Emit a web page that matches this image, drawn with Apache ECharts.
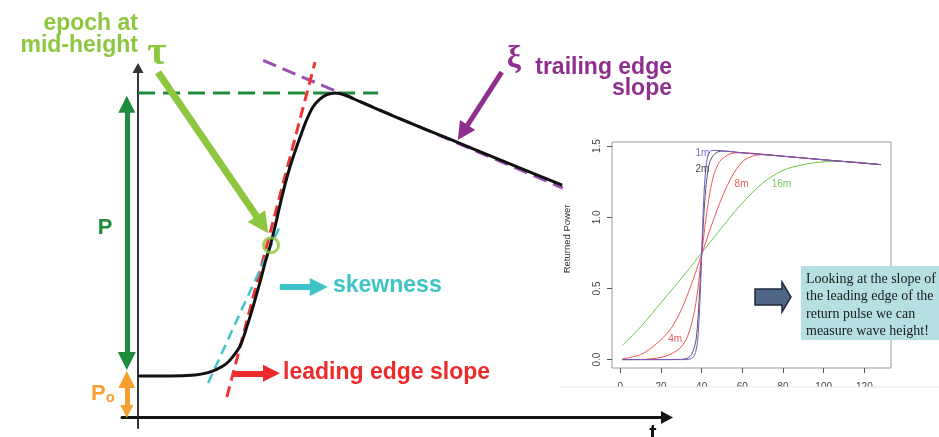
<!DOCTYPE html>
<html>
<head>
<meta charset="utf-8">
<script src="https://cdn.jsdelivr.net/npm/echarts@6/dist/echarts.min.js"></script>
<style>
  html, body { margin: 0; padding: 0; background: #fff; }
  #chart { width: 939px; height: 437px; }
</style>
</head>
<body>
<div id="chart"></div>
<script>
// ---- Idealised altimeter return waveform (main panel), t vs power ----
const waveT = [0, 6, 10.7, 12.9, 14.8, 16.4, 17.8, 19.1, 20.4, 21.7, 23.0, 23.9, 24.7, 25.6, 26.5, 27.5, 28.4, 29.3, 30.3, 31.4, 32.7, 34.0, 35.3, 36.8, 38.7, 41.5, 49.0, 58.3, 67.7, 79.3];
const waveP = [1.18, 1.18, 1.21, 1.27, 1.38, 1.52, 1.75, 2.04, 2.61, 3.26, 3.97, 4.49, 4.89, 5.43, 6.03, 6.65, 7.14, 7.56, 7.99, 8.44, 8.85, 9.07, 9.2, 9.25, 9.19, 9.0, 8.51, 7.93, 7.34, 6.62];

// Reference lines (pairs of [t, power])
const peakLevel = [[0, 9.25], [44.9, 9.25]];
const leadingEdgeTangent = [[16.6, 0.58], [33.1, 10.13]];
const skewnessTangent = [[13.1, 0.98], [26.7, 5.51]];
const trailingEdgeTangent = [[23.4, 10.18], [79.4, 6.54]];
const midHeightEpoch = [24.86, 4.91];

// Annotation arrows (start, head centre)
const epochArrow = [[3.74, 9.84], [23.25, 5.49]];
const skewArrow = [[26.5, 3.72], [33.8, 3.72]];
const leadingArrow = [[17.76, 1.26], [24.95, 1.26]];
const trailingArrow = [[68.0, 9.84], [60.7, 8.12]];
const amplitudeArrow = [[-2.1, 8.93], [-2.1, 1.61]];
const noiseArrow = [[-2.1, 1.08], [-2.1, 0.17]];

// ---- Simulated waveforms for different significant wave heights ----
const insetTicksX = [0, 20, 40, 60, 80, 100, 120];
const insetTicksY = [0, 0.5, 1, 1.5];

const t1m = [1, 30, 34, 36, 37, 38, 39, 40, 41, 42, 43, 44, 45, 47, 60, 80, 100, 120, 128];
const p1m = [0, 0, 0.003, 0.02, 0.05, 0.13, 0.36, 0.74, 1.12, 1.34, 1.43, 1.46, 1.47, 1.47, 1.453, 1.429, 1.404, 1.38, 1.37];

const t2m = [1, 20, 30, 33, 35, 37, 38, 39, 40, 41, 42, 43, 44, 46, 48, 50, 60, 80, 100, 120, 128];
const p2m = [0, 0, 0.002, 0.01, 0.035, 0.12, 0.25, 0.48, 0.74, 1.0, 1.2, 1.32, 1.39, 1.44, 1.46, 1.465, 1.453, 1.429, 1.404, 1.38, 1.37];

const t4m = [1, 10, 20, 25, 30, 33, 36, 38, 40, 42, 44, 46, 48, 50, 55, 60, 80, 100, 120, 128];
const p4m = [0, 0.001, 0.015, 0.04, 0.09, 0.16, 0.31, 0.48, 0.74, 0.98, 1.17, 1.3, 1.37, 1.41, 1.45, 1.453, 1.429, 1.404, 1.38, 1.37];

const t8m = [1, 10, 15, 20, 25, 30, 35, 40, 45, 50, 55, 60, 65, 70, 80, 100, 120, 128];
const p8m = [0.004, 0.035, 0.08, 0.14, 0.22, 0.35, 0.53, 0.74, 0.95, 1.14, 1.29, 1.39, 1.43, 1.44, 1.429, 1.404, 1.38, 1.37];

const t16m = [1, 10, 20, 30, 40, 50, 60, 70, 80, 90, 100, 110, 120, 128];
const p16m = [0.10, 0.23, 0.40, 0.57, 0.75, 0.93, 1.10, 1.24, 1.33, 1.37, 1.39, 1.392, 1.382, 1.37];

const zip = (xs, ys) => xs.map((x, i) => [x, ys[i]]);

const GREEN_LIGHT = '#8dc63f';
const GREEN_DARK = '#1f8b3c';
const ORANGE = '#f7a030';
const CYAN = '#3ec3c8';
const RED = '#ee2a2a';
const PURPLE = '#8e2f8e';
const SANS = '"Liberation Sans", Arial, sans-serif';
const SERIF = '"Liberation Serif", "Times New Roman", serif';

function dashed(name, pts, color, width, dash) {
  return {
    name, type: 'line', xAxisIndex: 0, yAxisIndex: 0, data: pts,
    showSymbol: false, clip: false, silent: true, z: 3,
    lineStyle: { color, width, type: dash }
  };
}
function arrow(name, pts, color, width, head, both) {
  return {
    name, type: 'lines', coordinateSystem: 'cartesian2d', xAxisIndex: 0, yAxisIndex: 0,
    clip: false, silent: true, z: 4,
    symbol: both ? ['triangle', 'triangle'] : ['none', 'triangle'],
    symbolSize: head,
    lineStyle: { color, width, opacity: 1, curveness: 0 },
    itemStyle: { color },
    data: [{ coords: pts }]
  };
}
function insetCurve(name, xs, ys, color) {
  return {
    name, type: 'line', xAxisIndex: 1, yAxisIndex: 1, data: zip(xs, ys),
    showSymbol: false, smooth: 0.3, silent: true,
    lineStyle: { color, width: 1 }, z: 2
  };
}
function label(text, x, y, color, size, align, font) {
  return {
    type: 'text', x, y, z: 20, silent: true,
    style: { text, fill: color, font: font || ('bold ' + size + 'px ' + SANS), align: align || 'left', verticalAlign: 'middle' }
  };
}

const chart = echarts.init(document.getElementById('chart'), null, { renderer: 'canvas' });

const option = {
  animation: false,
  backgroundColor: '#ffffff',
  grid: [
    { left: 122, top: 68, width: 545, height: 360, outerBoundsMode: 'none', containLabel: false },
    { left: 612, top: 142, width: 279, height: 226, show: true, borderColor: '#9a9a9a', borderWidth: 1,
      backgroundColor: 'transparent', outerBoundsMode: 'none', containLabel: false }
  ],
  xAxis: [
    { type: 'value', gridIndex: 0, min: -3, max: 98.9,
      axisLine: { show: true, onZero: true, symbol: ['none', 'triangle'], symbolSize: [13, 12],
        lineStyle: { color: '#151515', width: 3 } },
      axisTick: { show: false }, axisLabel: { show: false }, splitLine: { show: false } },
    { type: 'value', gridIndex: 1, min: -4.08, max: 133.08, position: 'bottom',
      axisLine: { show: false, onZero: false },
      axisTick: { show: true, customValues: insetTicksX, length: 5, inside: false, lineStyle: { color: '#555', width: 1 } },
      axisLabel: { show: true, customValues: insetTicksX, margin: 14, fontSize: 10, color: '#444', fontFamily: SANS },
      splitLine: { show: false } }
  ],
  yAxis: [
    { type: 'value', gridIndex: 0, min: -0.3, max: 9.96,
      axisLine: { show: true, onZero: true, symbol: ['none', 'triangle'], symbolSize: [11, 10],
        lineStyle: { color: '#333', width: 2 } },
      axisTick: { show: false }, axisLabel: { show: false }, splitLine: { show: false } },
    { type: 'value', gridIndex: 1, min: -0.059, max: 1.529, position: 'left',
      name: 'Returned Power', nameLocation: 'middle', nameGap: 40, nameRotate: 90,
      nameTextStyle: { fontSize: 9.5, color: '#333', fontFamily: SANS, padding: [0, 0, 0, 32] },
      axisLine: { show: false, onZero: false },
      axisTick: { show: true, customValues: insetTicksY, length: 5, inside: false, lineStyle: { color: '#555', width: 1 } },
      axisLabel: { show: true, customValues: insetTicksY, rotate: 90, margin: 10, fontSize: 10, color: '#444',
        fontFamily: SANS, formatter: v => v.toFixed(1) },
      splitLine: { show: false } }
  ],
  series: [
    // main panel
    dashed('peak level', peakLevel, '#1f8b3c', 3, [17, 8]),
    dashed('trailing edge', trailingEdgeTangent, '#9b4fae', 3, [14, 7]),
    dashed('leading edge', leadingEdgeTangent, '#f03535', 3, [11, 6]),
    dashed('skewness', skewnessTangent, '#45c2cc', 2.5, [10, 6]),
    { name: 'waveform', type: 'line', xAxisIndex: 0, yAxisIndex: 0, data: zip(waveT, waveP),
      showSymbol: false, smooth: 0.3, clip: false, silent: true, z: 5,
      lineStyle: { color: '#111', width: 3 } },
    { name: 'epoch', type: 'scatter', xAxisIndex: 0, yAxisIndex: 0, data: [midHeightEpoch],
      symbol: 'circle', symbolSize: 15, silent: true, z: 6, clip: false,
      itemStyle: { color: 'rgba(0,0,0,0)', borderColor: GREEN_LIGHT, borderWidth: 3 } },
    arrow('epoch arrow', epochArrow, GREEN_LIGHT, 7, [21, 21], false),
    arrow('skew arrow', skewArrow, CYAN, 6, [17, 18], false),
    arrow('leading arrow', leadingArrow, RED, 6, [17, 17], false),
    arrow('trailing arrow', trailingArrow, PURPLE, 5, [16, 18], false),
    arrow('P', amplitudeArrow, GREEN_DARK, 5, [17, 18], true),
    arrow('Po', noiseArrow, ORANGE, 5, [17, 13], true),
    // inset
    insetCurve('16m', t16m, p16m, '#6cc84a'),
    insetCurve('8m', t8m, p8m, '#f25555'),
    insetCurve('4m', t4m, p4m, '#f25555'),
    insetCurve('2m', t2m, p2m, '#555555'),
    insetCurve('1m', t1m, p1m, '#7b55d0'),
    { name: 'labels', type: 'scatter', xAxisIndex: 1, yAxisIndex: 1, symbolSize: 0, silent: true, z: 8,
      label: { show: true, position: 'inside', fontSize: 10, fontFamily: SANS },
      data: [
        { value: [40.4, 1.453], label: { formatter: '1m', color: '#6a45c0' } },
        { value: [40.4, 1.335], label: { formatter: '2m', color: '#222' } },
        { value: [59.6, 1.235], label: { formatter: '8m', color: '#e83030' } },
        { value: [79.2, 1.231], label: { formatter: '16m', color: '#55b83a' } },
        { value: [27.0, 0.14], label: { formatter: '4m', color: '#e83030' } }
      ] }
  ],
  graphic: [
    label('epoch at', 138, 24, GREEN_LIGHT, 23, 'right'),
    label('mid-height', 138, 46, GREEN_LIGHT, 23, 'right'),
    label('τ', 157, 53, GREEN_LIGHT, 42, 'center', 'bold 42px ' + SERIF),
    label('P', 105, 228, GREEN_DARK, 22, 'center'),
    { type: 'text', x: 91, y: 394, z: 20, silent: true,
      style: { text: '{a|P}{b|o}', align: 'left', verticalAlign: 'middle',
        rich: { a: { fill: ORANGE, font: 'bold 22px ' + SANS, verticalAlign: 'bottom' },
                b: { fill: ORANGE, font: 'bold 15px ' + SANS, verticalAlign: 'bottom' } } } },
    label('skewness', 333, 286, CYAN, 23),
    label('leading edge slope', 283, 373, RED, 23),
    label('ξ', 514, 59, PURPLE, 32, 'center', 'bold 32px ' + SERIF),
    label('trailing edge', 672, 68, PURPLE, 23, 'right'),
    label('slope', 672, 89, PURPLE, 23, 'right'),
    { type: 'text', x: 653, y: 423, z: 20, silent: true,
      style: { text: 't', fill: '#111', font: 'bold 22px ' + SANS, align: 'center', verticalAlign: 'top' } },
    // lower edge of the inset panel
    { type: 'rect', z: 30, silent: true, shape: { x: 560, y: 387, width: 379, height: 16 },
      style: { fill: '#ffffff' } },
    { type: 'line', z: 31, silent: true, shape: { x1: 560, y1: 387, x2: 939, y2: 387 },
      style: { stroke: '#e2eaf2', lineWidth: 1 } },
    // call-out box
    { type: 'polygon', z: 30, silent: true,
      shape: { points: [[755, 289], [782, 289], [782, 282], [791, 297], [782, 312], [782, 305], [755, 305]] },
      style: { fill: '#4f6688', stroke: '#1f2a3a', lineWidth: 1.5 } },
    { type: 'rect', z: 30, silent: true, shape: { x: 801, y: 266, width: 138, height: 74 },
      style: { fill: '#b5dfe0' } },
    { type: 'text', x: 806, y: 271, z: 31, silent: true,
      style: { text: 'Looking at the slope of\nthe leading edge of the\nreturn pulse we can\nmeasure wave height!',
        fill: '#1a1a1a', font: '14px ' + SERIF, lineHeight: 17.2, align: 'left', verticalAlign: 'top' } }
  ]
};

chart.setOption(option);
</script>
</body>
</html>
